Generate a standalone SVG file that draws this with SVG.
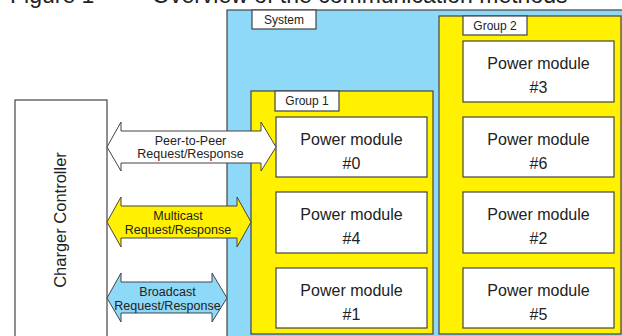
<svg xmlns="http://www.w3.org/2000/svg" width="622" height="336" viewBox="0 0 622 336">
<style>
text{font-family:"Liberation Sans",Arial,sans-serif;fill:#222}
.sys{fill:#8ed8f8;stroke:#444;stroke-width:1.2}
.grp{fill:#fff100;stroke:#444;stroke-width:1.2}
.box{fill:#fff;stroke:#444;stroke-width:1.2}
.pm{font-size:16px;text-anchor:middle}
.lbl{font-size:12px;text-anchor:middle}
.arr{stroke:#444;stroke-width:1}
.at{font-size:12.5px;text-anchor:middle}
</style>
<text x="10" y="3" font-size="23">Figure 1</text>
<text x="152" y="3" font-size="23">Overview of the communication methods</text>
<g id="system">
<rect class="sys" x="227" y="10" width="400" height="330"/>
<rect class="box" x="252" y="10" width="64" height="19"/>
<text class="lbl" x="284" y="24">System</text>
</g>
<g id="group1">
<rect class="grp" x="251" y="91" width="182" height="243"/>
<rect class="box" x="275" y="91" width="64" height="20"/>
<text class="lbl" x="307" y="105">Group 1</text>
</g>
<g id="group2">
<rect class="grp" x="439" y="16" width="182" height="318"/>
<rect class="box" x="463" y="16" width="64" height="19"/>
<text class="lbl" x="495" y="30">Group 2</text>
</g>
<g id="pm0"><rect class="box" x="276" y="117" width="151" height="60"/><text class="pm" x="351.5" y="145">Power module</text><text class="pm" x="351.5" y="169">#0</text></g>
<g id="pm4"><rect class="box" x="276" y="192" width="151" height="61"/><text class="pm" x="351.5" y="220">Power module</text><text class="pm" x="351.5" y="244">#4</text></g>
<g id="pm1"><rect class="box" x="276" y="268" width="151" height="60"/><text class="pm" x="351.5" y="296">Power module</text><text class="pm" x="351.5" y="320">#1</text></g>
<g id="pm3"><rect class="box" x="463" y="41" width="151" height="61"/><text class="pm" x="538.5" y="69">Power module</text><text class="pm" x="538.5" y="93">#3</text></g>
<g id="pm6"><rect class="box" x="463" y="117" width="151" height="60"/><text class="pm" x="538.5" y="145">Power module</text><text class="pm" x="538.5" y="169">#6</text></g>
<g id="pm2"><rect class="box" x="463" y="192" width="151" height="61"/><text class="pm" x="538.5" y="220">Power module</text><text class="pm" x="538.5" y="244">#2</text></g>
<g id="pm5"><rect class="box" x="463" y="268" width="151" height="60"/><text class="pm" x="538.5" y="296">Power module</text><text class="pm" x="538.5" y="320">#5</text></g>
<g id="charger">
<rect class="box" x="15" y="100" width="92" height="245"/>
<text x="66" y="220" font-size="16.5" text-anchor="middle" transform="rotate(-90 66 220)">Charger Controller</text>
</g>
<g id="connectors">
<path class="arr" fill="#fff" d="M107,147 L121,122 L121,131 L261,131 L261,122 L276,147 L261,171 L261,163 L121,163 L121,171 Z"/>
<text class="at" x="190.5" y="145">Peer-to-Peer</text>
<text class="at" x="190.5" y="157.5">Request/Response</text>
<path class="arr" fill="#fff100" d="M107,222 L121,197 L121,206 L237,206 L237,197 L251,222 L237,247 L237,238 L121,238 L121,247 Z"/>
<text class="at" x="178" y="220">Multicast</text>
<text class="at" x="178" y="233.5">Request/Response</text>
<path class="arr" fill="#8ed8f8" d="M107,298 L121,273 L121,282 L212,282 L212,273 L227,298 L212,322 L212,313 L121,313 L121,322 Z"/>
<text class="at" x="167.5" y="296">Broadcast</text>
<text class="at" x="167.5" y="310">Request/Response</text>
</g>
</svg>
